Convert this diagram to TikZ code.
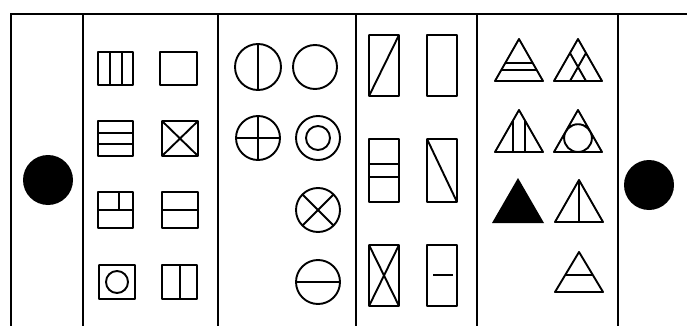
\documentclass[tikz,border=0pt]{standalone}
\begin{document}
\begin{tikzpicture}[x=1pt,y=-1pt,
  fig/.style={line width=1.9pt, line join=round},
  frame/.style={line width=2pt}]
\useasboundingbox (0,0) rectangle (687,326);
\fill[white] (0,0) rectangle (687,326);
% frame
\draw[frame] (11,326) -- (11,14) -- (687,14);
\foreach \x in {83,218,356,477,618} \draw[frame] (\x,14) -- (\x,326);
% black discs
\fill (48,180) circle (25);
\fill (649,185) circle (25);
% column 2: squares
\draw[fig] (98,52) rectangle (133,85) (110,52)--(110,85) (122,52)--(122,85);
\draw[fig] (160,52) rectangle (197,85);
\draw[fig] (98,121) rectangle (133,156) (98,133)--(133,133) (98,144)--(133,144);
\draw[fig] (162,121) rectangle (198,156) (162,121)--(198,156) (162,156)--(198,121);
\draw[fig] (98,192) rectangle (133,228) (98,210)--(133,210) (119,192)--(119,210);
\draw[fig] (162,192) rectangle (198,228) (162,210)--(198,210);
\draw[fig] (99,265) rectangle (135,299) (117,282) circle (11);
\draw[fig] (162,265) rectangle (197,299) (180,265)--(180,299);
% column 3: circles
\draw[fig] (258,67) circle (23) (258,44)--(258,90);
\draw[fig] (315,67) circle (22);
\draw[fig] (258,138) circle (22) (258,116)--(258,160) (236,138)--(280,138);
\draw[fig] (318,138) circle (22) (318,138) circle (12);
\draw[fig] (318,210) circle (22) (302.4,194.4)--(333.6,225.6) (302.4,225.6)--(333.6,194.4);
\draw[fig] (318,282) circle (22) (296,282)--(340,282);
% column 4: rectangles
\draw[fig] (369,35) rectangle (399,96) (369,96)--(399,35);
\draw[fig] (427,35) rectangle (457,96);
\draw[fig] (369,139) rectangle (399,202) (369,164)--(399,164) (369,177)--(399,177);
\draw[fig] (427,139) rectangle (457,202) (427,139)--(457,202);
\draw[fig] (369,245) rectangle (399,306) (369,245)--(399,306) (369,306)--(399,245);
\draw[fig] (427,245) rectangle (457,306) (433,275)--(453,275);
% column 5: triangles
\draw[fig] (519,39)--(495,81)--(543,81)--cycle (505.3,63)--(532.7,63) (501.3,70)--(536.7,70);
\draw[fig] (578,39)--(554,81)--(602,81)--cycle (570,53)--(586,81) (586,53)--(570,81);
\draw[fig] (519,110)--(495,152)--(543,152)--cycle (513,120.5)--(513,152) (525,120.5)--(525,152);
\draw[fig] (578,110)--(554,152)--(602,152)--cycle (578,138.1) circle (13.9);
\fill[line join=round] (518,178)--(492,223)--(544,223)--cycle;
\draw[fig] (579,180)--(555,222)--(603,222)--cycle (579,180)--(579,222);
\draw[fig] (579,252)--(555,292)--(603,292)--cycle (565.2,275)--(592.8,275);
\end{tikzpicture}
\end{document}
